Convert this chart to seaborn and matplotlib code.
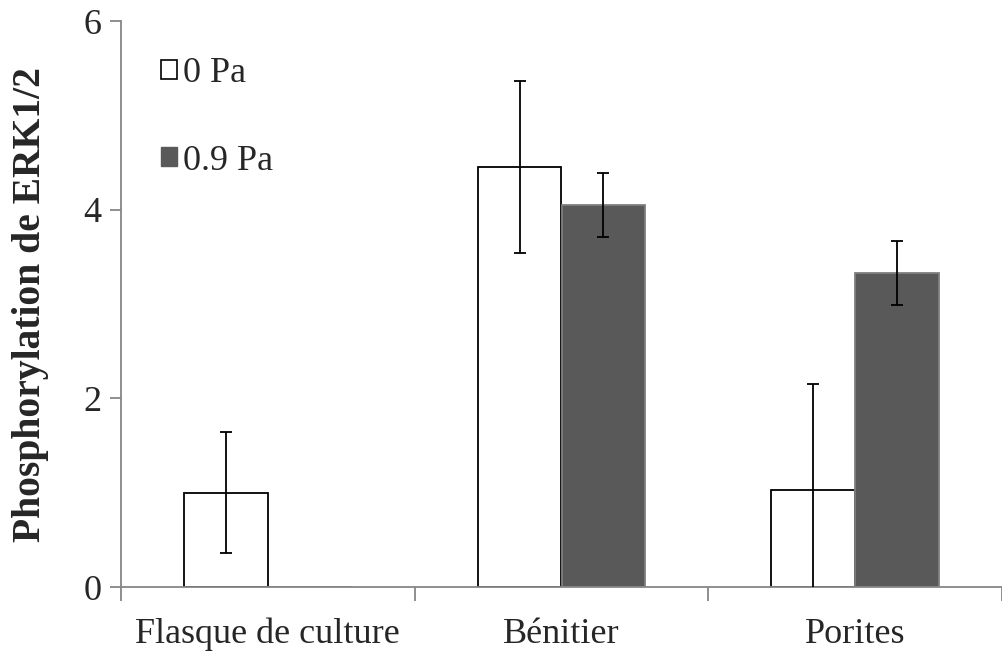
import matplotlib
matplotlib.use("Agg")
import matplotlib.pyplot as plt
import seaborn as sns
import pandas as pd
from matplotlib.patches import Patch

categories = ["Flasque de culture", "Bénitier", "Porites"]
series_names = ["0 Pa", "0.9 Pa"]
values_0pa = [1.00, 4.45, 1.03]
values_09pa = [0.0, 4.05, 3.33]
err_0pa = [0.64, 0.91, 1.12]
err_09pa = [0.0, 0.34, 0.34]
y_ticks = [0, 2, 4, 6]
y_label = "Phosphorylation de ERK1/2"

sns.set_theme(style="white")
plt.rcParams["font.family"] = ["Liberation Serif", "DejaVu Serif"]

df = pd.DataFrame({
    "cat": categories * 2,
    "cond": [series_names[0]] * 3 + [series_names[1]] * 3,
    "val": values_0pa + values_09pa,
})

fig = plt.figure(figsize=(10.03, 6.53), dpi=100)
ax = fig.add_axes([121 / 1003, (653 - 587) / 653, (1002 - 121) / 1003, (587 - 21) / 653])

fill = {"0 Pa": "white", "0.9 Pa": "#595959"}
sns.barplot(data=df, x="cat", y="val", hue="cond", order=categories,
            hue_order=series_names, palette=fill, width=0.57,
            errorbar=None, ax=ax, legend=False, saturation=1)

errs = [err_0pa, err_09pa]
edges = ["black", "#7f7f7f"]
bar_containers = list(ax.containers)
for i, cont in enumerate(bar_containers):
    xs, vals = [], []
    for bar in cont:
        bar.set_edgecolor(edges[i])
        bar.set_linewidth(1.3)
        xs.append(bar.get_x() + bar.get_width() / 2)
        vals.append(bar.get_height())
    for x, v, e in zip(xs, vals, errs[i]):
        if e > 0:
            ax.errorbar(x, v, yerr=e, fmt="none", ecolor="black",
                        elinewidth=1.3, capsize=4.5, capthick=1.3, zorder=5,
                        clip_on=True)

ax.set_ylim(0, 6)
ax.set_xlim(-0.5, 2.5)
ax.set_yticks(y_ticks)
ax.set_yticklabels([str(t) for t in y_ticks], fontsize=26)
ax.set_xticks([-0.5, 0.5, 1.5, 2.5], minor=False)
ax.set_xticklabels([])
ax.set_xticks([0, 1, 2], minor=True)
ax.set_xticklabels(categories, minor=True, fontsize=26)
ax.tick_params(axis="x", which="minor", length=0, pad=22)
ax.tick_params(axis="x", which="major", length=10, width=1.3, color="#868686", direction="out")
ax.tick_params(axis="y", length=8, width=1.3, color="#868686", direction="out", pad=6)
ax.xaxis.set_ticks_position("bottom")
ax.yaxis.set_ticks_position("left")
ax.set_xlabel("")
ax.set_ylabel(y_label, fontsize=28.5, fontweight="bold", labelpad=25)

for s in ["top", "right"]:
    ax.spines[s].set_visible(False)
for s in ["left", "bottom"]:
    ax.spines[s].set_color("#868686")
    ax.spines[s].set_linewidth(1.3)

handles = [Patch(facecolor="white", edgecolor="black", linewidth=1.2),
           Patch(facecolor="#595959", edgecolor="#595959")]
leg = ax.legend(handles, series_names, loc="upper left", bbox_to_anchor=(0.008, 0.993),
                frameon=False, fontsize=26, handlelength=0.45, handleheight=0.45,
                handletextpad=0.18, labelspacing=1.5)

fig.savefig("out.png", dpi=100)
